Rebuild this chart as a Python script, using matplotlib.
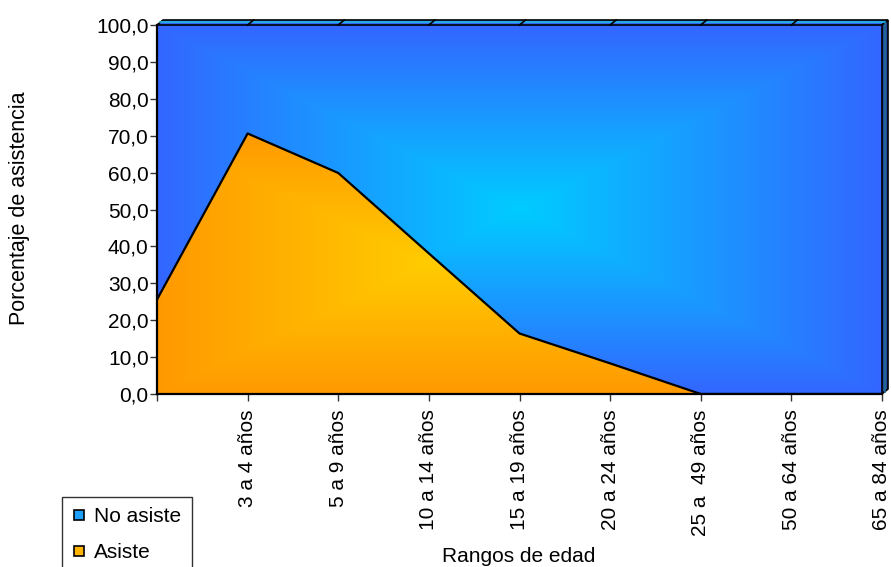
import matplotlib
matplotlib.use("Agg")
import matplotlib.pyplot as plt
from matplotlib.lines import Line2D
from matplotlib.patches import Polygon
import numpy as np

plt.rcParams["font.family"] = ["Liberation Sans", "DejaVu Sans"]

# data
categorias = ["", "3 a 4 años", "5 a 9 años", "10 a 14 años", "15 a 19 años",
              "20 a 24 años", "25 a  49 años", "50 a 64 años", "65 a 84 años"]
asiste = [25.6, 70.6, 59.9, 38.1, 16.4, 8.3, 0.0, 0.0, 0.0]
no_asiste = [100 - v for v in asiste]
y_ticks = [0, 10, 20, 30, 40, 50, 60, 70, 80, 90, 100]

FS = 15
W, H = 891, 567
fig = plt.figure(figsize=(W / 100, H / 100), dpi=100)
ax = fig.add_axes([157 / W, 1 - 394 / H, 725 / W, 369 / H])

x = np.arange(len(categorias))
base = np.array(asiste)
top = base + np.array(no_asiste)


def rect_gradient(ax, x0, x1, y0, y1, c_center, c_edge, clip, z):
    # rectangular "from center" gradient, clipped to an area
    X, Y = np.meshgrid(np.linspace(-1, 1, 500), np.linspace(-1, 1, 300))
    t = np.maximum(np.abs(X), np.abs(Y))[..., None]
    cc = np.array(matplotlib.colors.to_rgb(c_center))
    ce = np.array(matplotlib.colors.to_rgb(c_edge))
    img = cc * (1 - t) + ce * t
    im = ax.imshow(img, extent=(x0, x1, y0, y1), origin="lower",
                   aspect="auto", zorder=z, interpolation="bilinear")
    im.set_clip_path(clip)


# area shapes, stacked
verts_b = list(zip(x, base)) + list(zip(x[::-1], top[::-1]))
verts_a = list(zip(x, base)) + [(x[-1], 0), (x[0], 0)]
poly_b = Polygon(verts_b, closed=True, facecolor="none", lw=0, transform=ax.transData)
poly_a = Polygon(verts_a, closed=True, facecolor="none", lw=0, transform=ax.transData)
ax.add_patch(poly_b)
ax.add_patch(poly_a)
rect_gradient(ax, 0, 8, 0, 100, "#00CCFF", "#3366FF", poly_b, 1)
nz = np.nonzero(base)[0]
rect_gradient(ax, 0, nz[-1] + 1, 0, max(asiste), "#FFCC00", "#FF9900", poly_a, 2)
ax.plot(x, base, color="black", lw=1.6, zorder=3)

ax.set_xlim(0, 8)
ax.set_ylim(0, 100)

# fake 3D depth: top and right faces
dx, dy = 6 * 8 / 725, 5 * 100 / 369
top_face = Polygon([(0, 100), (8, 100), (8 + dx, 100 + dy), (dx, 100 + dy)],
                   closed=True, facecolor="#3366FF", edgecolor="black", lw=1.2,
                   clip_on=False, zorder=4)
ax.add_patch(top_face)
ax.plot([dx * 0.5, 8 + dx * 0.5], [100 + dy * 0.55, 100 + dy * 0.55],
        color="#22BBDD", lw=1.2, clip_on=False, zorder=5)
for xi in x[1:-1]:
    ax.plot([xi, xi + dx], [100, 100 + dy], color="black", lw=1.2,
            clip_on=False, zorder=5)
right_face = Polygon([(8, 0), (8 + dx, dy), (8 + dx, 100 + dy), (8, 100)],
                     closed=True, facecolor="#24479F", edgecolor="black", lw=1.2,
                     clip_on=False, zorder=4)
ax.add_patch(right_face)
ax.plot([8 + dx * 0.5, 8 + dx * 0.5], [dy * 0.5, 100 + dy * 0.5],
        color="#1F6F8F", lw=1.2, clip_on=False, zorder=5)

for s in ["top", "right"]:
    ax.spines[s].set_visible(False)
for s in ["left", "bottom"]:
    ax.spines[s].set_linewidth(1.6)
    ax.spines[s].set_zorder(6)

ax.set_yticks(y_ticks)
ax.set_yticklabels([f"{v:.1f}".replace(".", ",") for v in y_ticks], fontsize=FS)
ax.set_xticks(x)
ax.set_xticklabels(categorias, rotation=90, fontsize=FS, va="top", ha="center")
ax.tick_params(axis="both", direction="out", length=5, width=1, color="#333333")
ax.tick_params(axis="x", pad=6)
ax.tick_params(axis="y", pad=1)

fig.text(20 / W, 1 - 208 / H, "Porcentaje de asistencia", rotation=90,
         fontsize=15.5, ha="center", va="center")
fig.text(519 / W, 1 - 557 / H, "Rangos de edad", fontsize=FS,
         ha="center", va="center")

handles = [
    Line2D([], [], marker="s", ls="none", markersize=7.5, markerfacecolor="#1EA0FF",
           markeredgecolor="black", markeredgewidth=1.2, label="No asiste"),
    Line2D([], [], marker="s", ls="none", markersize=7.5, markerfacecolor="#FFB400",
           markeredgecolor="black", markeredgewidth=1.2, label="Asiste"),
]
leg = fig.legend(handles=handles, loc="upper left",
                 bbox_to_anchor=(62 / W, 1 - 497 / H), fontsize=FS,
                 frameon=True, fancybox=False, handlelength=0.6,
                 handletextpad=0.45, borderpad=0.5, labelspacing=0.8,
                 borderaxespad=0)
leg.get_frame().set_edgecolor("black")
leg.get_frame().set_linewidth(1.0)

fig.savefig("out.png", dpi=100)
